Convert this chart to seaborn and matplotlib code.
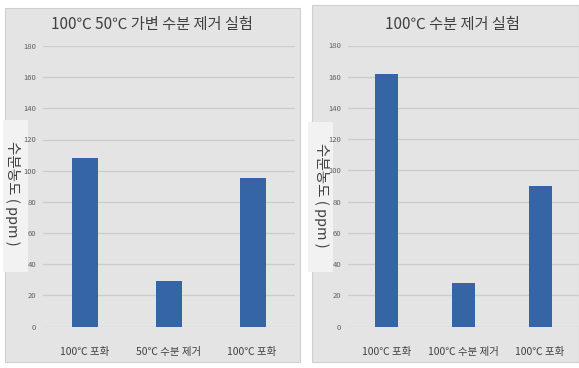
import pandas as pd
import matplotlib
matplotlib.use("Agg")
import matplotlib.pyplot as plt
from matplotlib.patches import Rectangle
import seaborn as sns

# left chart: 100/50 variable removal
left_title = "100℃ 50℃ 가변 수분 제거 실험"
left_cats = ["100℃ 포화", "50℃ 수분 제거", "100℃ 포화 "]
left_vals = [108, 29, 95]

# right chart: 100 removal
right_title = "100℃ 수분 제거 실험"
right_cats = ["100℃ 포화", "100℃ 수분 제거", "100℃ 포화 "]
right_vals = [162, 28, 90]

y_label = "수분농도 ( ppm )"
y_ticks = [0, 20, 40, 60, 80, 100, 120, 140, 160, 180]

sns.set_style("white")
plt.rcParams['font.family'] = ['Noto Sans CJK KR', 'DejaVu Sans']

W, H = 579, 368
fig = plt.figure(figsize=(W / 100, H / 100), dpi=100)
fig.patch.set_facecolor("white")

def px_rect(x0, y0, x1, y1, **kw):
    # pixel box (top-left origin) -> figure rectangle
    r = Rectangle((x0 / W, 1 - y1 / H), (x1 - x0) / W, (y1 - y0) / H,
                  transform=fig.transFigure, **kw)
    fig.patches.append(r)

# panel backgrounds
px_rect(5, 8, 300, 362, facecolor="#e4e4e4", edgecolor="#cfcfcf", lw=0.8, zorder=-2)
px_rect(312, 5, 579, 362, facecolor="#e4e4e4", edgecolor="#cfcfcf", lw=0.8, zorder=-2)
# y-label boxes (behind tick labels)
px_rect(3, 120, 28, 272, facecolor="#f2f2f2", edgecolor="none", zorder=-1)
px_rect(308, 122, 333, 272, facecolor="#f2f2f2", edgecolor="none", zorder=-1)

bar_color = "#3565a5"

def draw(ax, cats, vals, title, tx):
    df = pd.DataFrame({"cat": cats, "val": vals})
    sns.barplot(data=df, x="cat", y="val", color=bar_color, width=0.31,
                saturation=1, linewidth=0, ax=ax, zorder=3)
    ax.set_facecolor("none")
    ax.set_ylim(0, 180)
    ax.set_yticks(y_ticks)
    ax.set_xlim(-0.5, 2.5)
    for s in ax.spines.values():
        s.set_visible(False)
    ax.grid(axis="y", color="#cccccc", lw=0.9, zorder=0)
    ax.set_axisbelow(True)
    ax.tick_params(axis="y", length=0, pad=5, labelsize=5.5, labelcolor="#606060")
    ax.tick_params(axis="x", length=0, pad=15, labelsize=7.5, labelcolor="#404040")
    ax.set_xlabel("")
    ax.set_ylabel("")
    fig.text(tx / W, 1 - 24 / H, title, ha="center", va="center",
             fontsize=11, color="#404040")

ax1 = fig.add_axes([43 / W, 1 - 326.5 / H, 252 / W, 280.5 / H])
draw(ax1, left_cats, left_vals, left_title, 152)

ax2 = fig.add_axes([348 / W, 1 - 326.5 / H, 231 / W, 281 / H])
draw(ax2, right_cats, right_vals, right_title, 452)

fig.text(12 / W, 1 - 193 / H, y_label, rotation=-90, ha="center", va="center",
         fontsize=10.5, color="#404040", zorder=5)
fig.text(321 / W, 1 - 195 / H, y_label, rotation=-90, ha="center", va="center",
         fontsize=10.5, color="#404040", zorder=5)

fig.savefig("out.png", dpi=100)
